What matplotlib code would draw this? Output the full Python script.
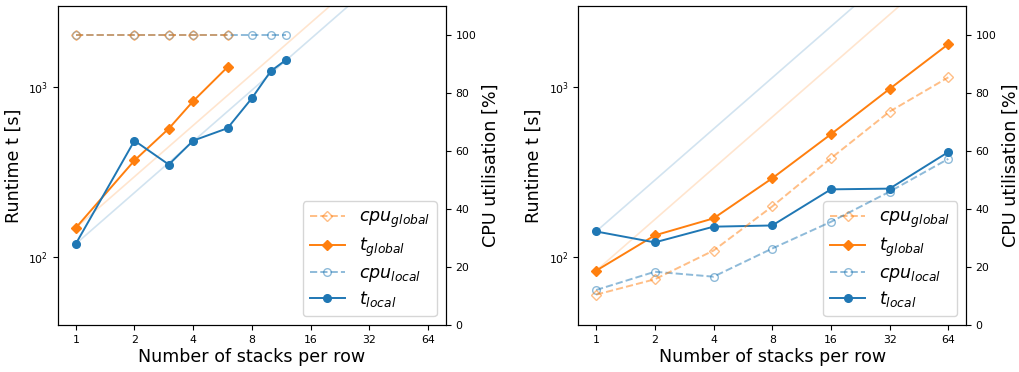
import numpy as np
import matplotlib
matplotlib.use("Agg")
import matplotlib.pyplot as plt
from matplotlib.ticker import FixedLocator, FixedFormatter, NullLocator

# left panel: runs per stack count (1..12)
stacks_global_a = [1, 2, 3, 4, 6]
t_global_a = [149, 371, 571, 828, 1312]
cpu_global_a = [100, 100, 100, 100, 100]
stacks_local_a = [1, 2, 3, 4, 6, 8, 10, 12]
t_local_a = [120, 485, 351, 485, 574, 861, 1242, 1449]
cpu_local_a = [100, 100, 100, 100, 100, 100, 100, 100]

# right panel: powers of two
stacks_b = [1, 2, 4, 8, 16, 32, 64]
t_global_b = [83.5, 134.7, 169.5, 291.5, 529, 977, 1790]
cpu_global_b = [10.5, 15.8, 25.7, 40.9, 57.5, 73.6, 85.4]
t_local_b = [142, 122.5, 151.5, 154, 251, 253.5, 416]
cpu_local_b = [12.1, 18.4, 16.7, 26.4, 35.6, 46.0, 57.3]

xticks = [1, 2, 4, 8, 16, 32, 64]
LBL = 12.6
TCK = 7.8
ORANGE = "#ff7f0e"
BLUE = "#1f77b4"


def panel(ax, sg, tg, cg, sl, tl, cl):
    ideal_x = np.array(xticks, dtype=float)
    # ideal linear scaling from the first run
    ax.plot(ideal_x, tg[0] * ideal_x / sg[0], color=ORANGE, alpha=0.2, lw=1.2)
    ax.plot(ideal_x, tl[0] * ideal_x / sl[0], color=BLUE, alpha=0.2, lw=1.2)
    h_tg, = ax.plot(sg, tg, color=ORANGE, marker="D", ms=5.5, lw=1.4,
                    label="$t_{global}$")
    h_tl, = ax.plot(sl, tl, color=BLUE, marker="o", ms=5.5, lw=1.4,
                    label="$t_{local}$")
    ax.set_xscale("log", base=2)
    ax.set_yscale("log")
    ax.set_xlim(2 ** -0.3, 2 ** 6.3)
    ax.set_ylim(40, 3000)
    ax.xaxis.set_major_locator(FixedLocator(xticks))
    ax.xaxis.set_major_formatter(FixedFormatter([str(v) for v in xticks]))
    ax.xaxis.set_minor_locator(NullLocator())
    ax.yaxis.set_minor_locator(NullLocator())
    ax.tick_params(labelsize=TCK)
    ax.set_xlabel("Number of stacks per row", fontsize=LBL, labelpad=2)
    ax.set_ylabel("Runtime t [s]", fontsize=LBL)

    ax2 = ax.twinx()
    # local first so the global curve sits on top where they overlap
    h_cl, = ax2.plot(sl, cl, color=BLUE, alpha=0.5, ls="--", marker="o",
                     ms=5.5, mfc="none", lw=1.4, label="$cpu_{local}$")
    h_cg, = ax2.plot(sg, cg, color=ORANGE, alpha=0.5, ls="--", marker="D",
                     ms=5.5, mfc="none", lw=1.4, label="$cpu_{global}$")
    ax2.set_ylim(0, 110)
    ax2.set_yticks([0, 20, 40, 60, 80, 100])
    ax2.tick_params(labelsize=TCK)
    ax2.set_ylabel("CPU utilisation [%]", fontsize=LBL)

    ax.legend([h_cg, h_tg, h_cl, h_tl],
              [h.get_label() for h in (h_cg, h_tg, h_cl, h_tl)],
              loc="lower right", fontsize=LBL, labelspacing=0.3)


fig, (axa, axb) = plt.subplots(1, 2, figsize=(10.2, 3.72), dpi=100)
fig.subplots_adjust(left=0.057, right=0.947, bottom=0.126, top=0.984,
                    wspace=0.343)

panel(axa, stacks_global_a, t_global_a, cpu_global_a,
      stacks_local_a, t_local_a, cpu_local_a)
panel(axb, stacks_b, t_global_b, cpu_global_b,
      stacks_b, t_local_b, cpu_local_b)

fig.savefig("out.png", dpi=100)
